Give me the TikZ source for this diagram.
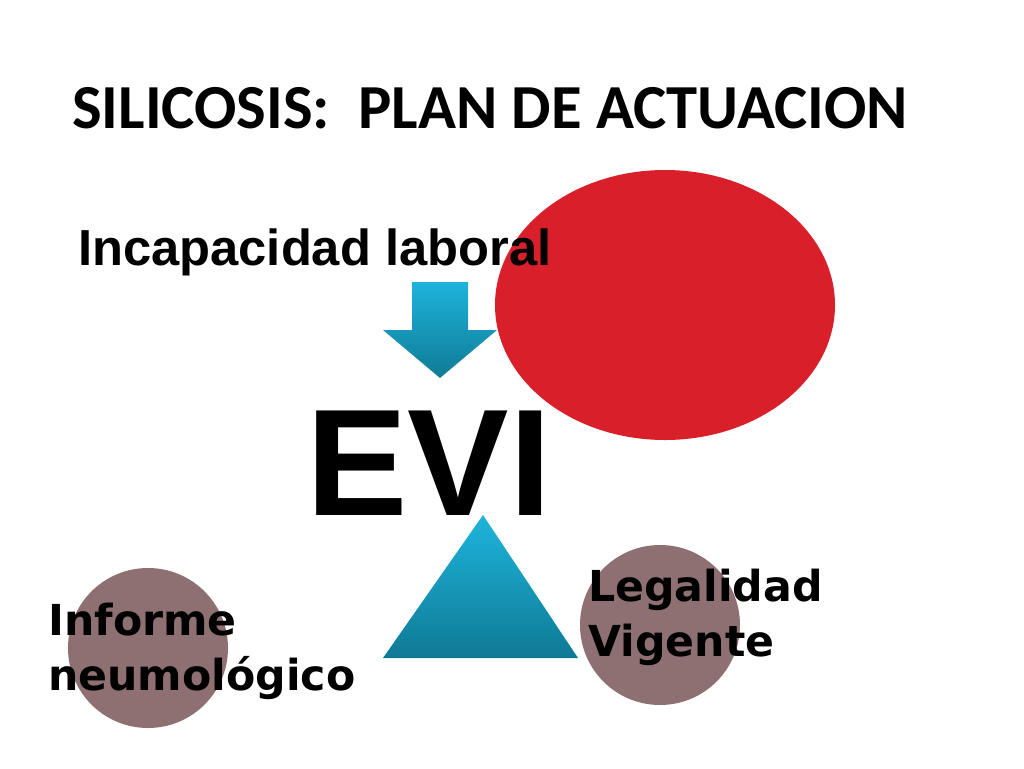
\documentclass[tikz,border=0pt]{standalone}
\usepackage{fontspec}
\setmainfont{Liberation Sans}
\newfontfamily\titlefont{Carlito}
\newfontfamily\heavyfont{DejaVu Sans}
\begin{document}
\begin{tikzpicture}[x=0.75pt,y=-0.75pt,
  lbl/.style={anchor=base west,inner sep=0,align=left},
  heavy/.style={lbl,font=\heavyfont\bfseries\fontsize{32}{41}\selectfont}]
\definecolor{redc}{HTML}{D9202A}
\definecolor{discc}{HTML}{8E7073}
\definecolor{cyanl}{HTML}{1EB4DC}
\definecolor{teald}{HTML}{0F7A95}
\useasboundingbox (0,0) rectangle (1024,768);
\fill[white] (0,0) rectangle (1024,768);
\node[lbl] (title) at (72,128) {\titlefont\bfseries\fontsize{47}{50}\selectfont SILICOSIS:\ \ PLAN DE ACTUACION};
\fill[redc] (665,305) ellipse [x radius=170, y radius=135];
\node[lbl] (inc) at (78,265) {\fontsize{38}{44}\selectfont\bfseries Incapacidad laboral};
\shade[top color=cyanl,bottom color=teald] (412,282) -- (468,282) -- (468,330) -- (497,330) -- (440,378) -- (383,330) -- (412,330) -- cycle;
\node[lbl] (evi) at (306,515) {\fontsize{114}{120}\selectfont\bfseries EVI};
\shade[top color=cyanl,bottom color=teald] (483,515) -- (578,658) -- (383,658) -- cycle;
\fill[discc] (148,648) circle (80);
\fill[discc] (660,625) circle (80);
\node[heavy] (inf) at (48,690) {Informe\\neumológico};
\node[heavy] (leg) at (588,656) {Legalidad\\Vigente};
\end{tikzpicture}
\end{document}
